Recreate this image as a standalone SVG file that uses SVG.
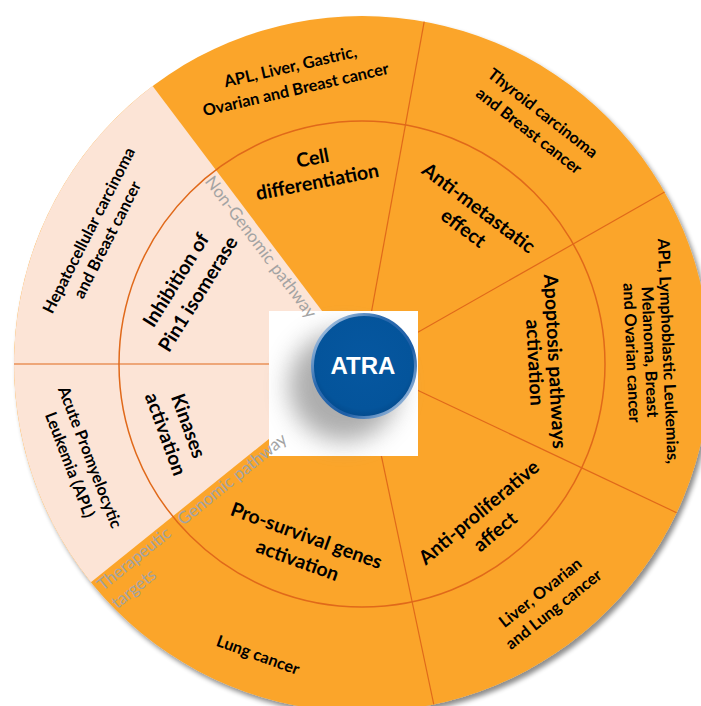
<svg xmlns="http://www.w3.org/2000/svg" width="701" height="706" viewBox="0 0 701 706">
<defs>
<style>
.in{font-family:Lato,"Open Sans","Liberation Sans",sans-serif;font-weight:700;font-size:19.5px;fill:#000;text-anchor:middle}
.out{font-family:Lato,"Open Sans","Liberation Sans",sans-serif;font-weight:700;font-size:16.3px;fill:#000;text-anchor:middle}
.gray{font-family:Lato,"Open Sans","Liberation Sans",sans-serif;font-weight:400;font-size:17px;fill:#A3A3A3;text-anchor:middle}
.spoke{stroke:#E0691A;stroke-width:1.2;fill:none}
</style>
<filter id="sh" x="-10%" y="-10%" width="125%" height="125%">
<feGaussianBlur in="SourceAlpha" stdDeviation="2.5"/>
<feOffset dx="3" dy="4" result="b"/>
<feComponentTransfer><feFuncA type="linear" slope="0.45"/></feComponentTransfer>
<feMerge><feMergeNode/><feMergeNode in="SourceGraphic"/></feMerge>
</filter>
<filter id="blur" x="-50%" y="-50%" width="200%" height="200%"><feGaussianBlur stdDeviation="12"/></filter>
<radialGradient id="ball" cx="50%" cy="45%" r="55%">
<stop offset="0" stop-color="#0657A0"/>
<stop offset="0.85" stop-color="#04549B"/>
<stop offset="1" stop-color="#034A8C"/>
</radialGradient>
<linearGradient id="rim" x1="0" y1="0" x2="1" y2="1">
<stop offset="0" stop-color="#D8E6F5"/>
<stop offset="0.35" stop-color="#2E6CB0"/>
<stop offset="0.65" stop-color="#1D5EA6"/>
<stop offset="1" stop-color="#CFE0F2"/>
</linearGradient>
</defs>
<rect width="701" height="706" fill="#fff"/>
<g id="wheel">
<circle cx="362" cy="364" r="348" fill="#FBA529" filter="url(#sh)"/>
<path d="M362,364 L152.6,86.1 A348,348 0 0 0 90.9,582.2 Z" fill="#FCE4D6"/>
<circle cx="362" cy="364" r="243" fill="none" stroke="#E0691A" stroke-width="1.5"/>
</g>
<g id="connectors">
<line class="spoke" x1="362" y1="364" x2="424.2" y2="21.6"/>
<line class="spoke" x1="362" y1="364" x2="664.6" y2="192.1"/>
<line class="spoke" x1="362" y1="364" x2="676.6" y2="512.7"/>
<line class="spoke" x1="362" y1="364" x2="433.8" y2="704.5"/>
<line class="spoke" x1="362" y1="364" x2="14" y2="364" stroke="#EE8C50"/>
</g>
<g id="target-top" transform="translate(293,78) rotate(-13)">
<text class="out" y="-6.1">APL, Liver, Gastric,</text>
<text class="out" y="17.4">Ovarian and Breast cancer</text>
</g>
<g id="target-thyroid" transform="translate(536,122) rotate(38)">
<text class="out" y="-5.6">Thyroid carcinoma</text>
<text class="out" y="16.9">and Breast cancer</text>
</g>
<g id="target-right" transform="translate(650,352) rotate(87.5)">
<text class="out" y="-12.6">APL, Lymphoblastic Leukemias,</text>
<text class="out" y="5.6">Melanoma, Breast</text>
<text class="out" y="23.8">and Ovarian cancer</text>
</g>
<g id="target-liver" transform="translate(547,601) rotate(-38.5)">
<text class="out" y="-5.1">Liver, Ovarian</text>
<text class="out" y="16.2">and Lung cancer</text>
</g>
<g id="target-lung" transform="translate(258,655) rotate(20)">
<text class="out" y="5.6">Lung cancer</text>
</g>
<g id="target-hcc" transform="translate(98,235) rotate(-63)">
<text class="out" y="-4.6">Hepatocellular carcinoma</text>
<text class="out" y="16">and Breast cancer</text>
</g>
<g id="target-apl" transform="translate(80,461) rotate(69)">
<text class="out" y="-5.1">Acute Promyelocytic</text>
<text class="out" y="16.4">Leukemia (APL)</text>
</g>
<g id="cell-differentiation" transform="translate(315,170) rotate(-11)">
<text class="in" y="-5.4">Cell</text>
<text class="in" y="18.8">differentiation</text>
</g>
<g id="anti-metastatic" transform="translate(471,218) rotate(37)">
<text class="in" y="-5.9">Anti-metastatic</text>
<text class="in" y="19.3">effect</text>
</g>
<g id="apoptosis" transform="translate(545,362) rotate(87)">
<text class="in" y="-3.4">Apoptosis pathways</text>
<text class="in" y="16.8">activation</text>
</g>
<g id="anti-proliferative" transform="translate(487,522) rotate(-40)">
<text class="in" y="-5.9">Anti-proliferative</text>
<text class="in" y="19.3">affect</text>
</g>
<g id="pro-survival" transform="translate(302,548) rotate(20)">
<text class="in" y="-6.4">Pro-survival genes</text>
<text class="in" y="19.8">activation</text>
</g>
<g id="kinases" transform="translate(177,430) rotate(70)">
<text class="in" y="-5.4">Kinases</text>
<text class="in" y="18.8">activation</text>
</g>
<g id="pin1" transform="translate(187,287) rotate(-58)">
<text class="in" y="-6.4">Inhibition of</text>
<text class="in" y="19.8">Pin1 isomerase</text>
</g>
<g id="atra">
<rect x="269" y="311" width="149" height="145" fill="#fff"/>
<circle cx="344" cy="386" r="55" fill="#8A8A8A" opacity="0.7" filter="url(#blur)"/>
<circle cx="364" cy="366" r="51.5" fill="url(#ball)" stroke="url(#rim)" stroke-width="3"/>
<text x="363" y="374" font-family="Liberation Sans,Arial,sans-serif" font-weight="700" font-size="24" fill="#fff" text-anchor="middle">ATRA</text>
</g>
<g id="non-genomic" transform="translate(261,247) rotate(53)">
<text class="gray" y="5.8">Non-Genomic pathway</text>
</g>
<g id="genomic" transform="translate(232,479) rotate(-39)">
<text class="gray" y="5.8">Genomic pathway</text>
</g>
<g id="therapeutic" transform="translate(135,558) rotate(-39)">
<text class="gray" x="-46" y="5.8" style="text-anchor:start">Therapeutic</text>
<text class="gray" x="-46" y="28.8" style="text-anchor:start">targets</text>
</g>
</svg>
